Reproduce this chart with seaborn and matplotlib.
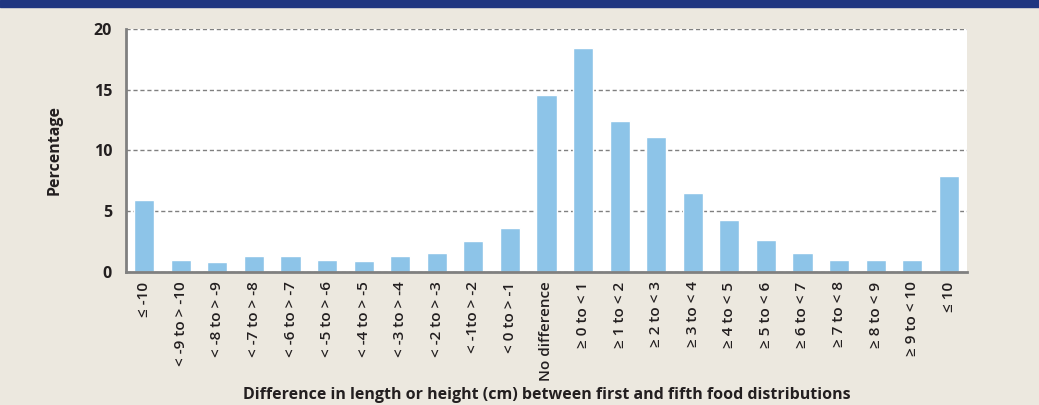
import matplotlib
matplotlib.use("Agg")
import matplotlib.pyplot as plt
import seaborn as sns
import pandas as pd
from matplotlib.patches import Rectangle

categories = [
    "≤ -10", "< -9 to > -10", "< -8 to > -9", "< -7 to > -8", "< -6 to > -7",
    "< -5 to > -6", "< -4 to > -5", "< -3 to > -4", "< -2 to > -3", "< -1to > -2",
    "< 0 to > -1", "No difference", "≥ 0 to < 1", "≥ 1 to < 2", "≥ 2 to < 3",
    "≥ 3 to < 4", "≥ 4 to < 5", "≥ 5 to < 6", "≥ 6 to < 7", "≥ 7 to < 8",
    "≥ 8 to < 9", "≥ 9 to < 10", "≤ 10",
]
percentages = [
    5.9, 1.0, 0.8, 1.3, 1.3, 1.0, 0.9, 1.3, 1.5, 2.5,
    3.6, 14.6, 18.4, 12.4, 11.1, 6.5, 4.3, 2.6, 1.5, 1.0,
    1.0, 1.0, 7.9,
]
y_ticks = [0, 5, 10, 15, 20]

df = pd.DataFrame({"category": categories, "pct": percentages})

sns.set_style("white")
plt.rcParams["font.family"] = ["Open Sans", "DejaVu Sans"]

bg = "#ECE8DF"
dark = "#231F20"
grey = "#808080"

fig = plt.figure(figsize=(10.39, 4.05), dpi=100, facecolor=bg)
ax = fig.add_axes([126 / 1039, 1 - 271.7 / 405, (967 - 126) / 1039, (271.7 - 29) / 405])
ax.set_facecolor("white")

sns.barplot(data=df, x="category", y="pct", color="#8DC4E8", saturation=1,
            width=0.55, ax=ax)

ax.set_xlim(-0.5, len(categories) - 0.5)
ax.set_ylim(0, 20)
ax.set_yticks(y_ticks)
ax.yaxis.grid(True, linestyle=(0, (3, 2)), color=grey, linewidth=1.0)
ax.set_axisbelow(True)

# category ticks sit between the bars
ax.set_xticks(range(len(categories)))
ax.set_xticklabels(categories, rotation=90, fontsize=11, fontweight="semibold", color=dark)
ax.set_xticks([i - 0.5 for i in range(len(categories) + 1)], minor=True)
ax.tick_params(axis="x", which="major", length=0, pad=7)
ax.tick_params(axis="x", which="minor", length=6, width=2, color=grey, direction="out")
ax.tick_params(axis="y", length=4, width=1, color=grey, labelsize=11.5, labelcolor=dark, pad=6)
for t in ax.get_yticklabels():
    t.set_fontweight("bold")

for side in ["top", "right"]:
    ax.spines[side].set_visible(False)
for side in ["left", "bottom"]:
    ax.spines[side].set_color(grey)
    ax.spines[side].set_linewidth(2)

ax.set_xlabel("Difference in length or height (cm) between first and fifth food distributions",
              fontsize=11.5, fontweight="bold", color=dark, labelpad=4)
ax.set_ylabel("Percentage", fontsize=11.5, fontweight="bold", color=dark, labelpad=22)

# navy band at the top of the panel
fig.patches.append(Rectangle((0, 1 - 7 / 405), 1, 7 / 405, transform=fig.transFigure,
                             color="#1F3580", zorder=5))

fig.savefig("out.png", dpi=100, facecolor=bg)
